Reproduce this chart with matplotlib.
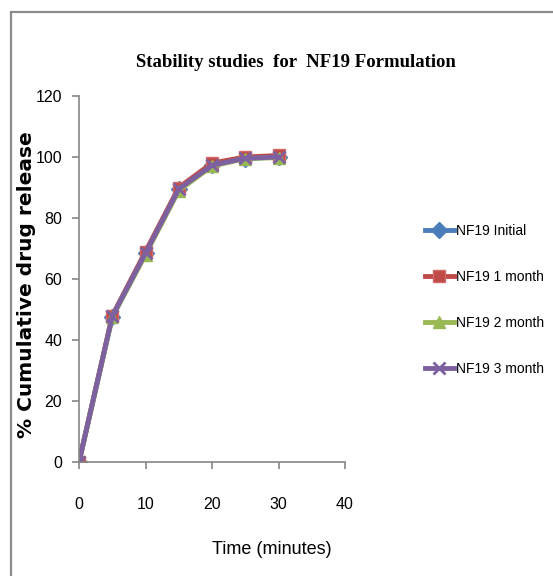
import matplotlib.pyplot as plt
from matplotlib.patches import Rectangle

time_min = [0, 5, 10, 15, 20, 25, 30]
initial = [0, 47.5, 68.5, 89.5, 97.5, 99.5, 100.0]
month1 = [0, 48.0, 69.0, 90.0, 98.0, 100.0, 100.5]
month2 = [0, 47.5, 68.0, 89.0, 97.0, 99.5, 99.8]
month3 = [0, 47.8, 68.5, 89.5, 97.3, 99.6, 100.0]

labels = ['NF19 Initial', 'NF19 1 month', 'NF19 2 month', 'NF19 3 month']
colors = ['#4a7ebb', '#be4b48', '#98b954', '#7d60a0']
markers = ['D', 's', '^', 'x']

narrow = 'Liberation Sans'

fig = plt.figure(figsize=(5.53, 5.76), dpi=100)
ax = fig.add_axes([0.1429, 0.1979, 0.481, 0.6354])

# chart frame
fig.patches.append(Rectangle((11 / 553, -0.01), 1.0, (576 - 11.5) / 576 + 0.01,
                             transform=fig.transFigure, fill=False,
                             edgecolor='#8c8c8c', lw=1.6))

series = [initial, month1, month2, month3]
for vals, lab, c, m in zip(series, labels, colors, markers):
    ax.plot(time_min, vals, color=c, marker=m, lw=3.5, ms=8,
            mew=2 if m == 'x' else 1, mec=c if m != 's' else '#d46a67', label=lab)

ax.set_xlim(0, 40)
ax.set_ylim(0, 120)
ax.set_xticks(range(0, 41, 10))
ax.set_yticks(range(0, 121, 20))
for s in ['top', 'right']:
    ax.spines[s].set_visible(False)
for s in ['left', 'bottom']:
    ax.spines[s].set_color('#868686')
    ax.spines[s].set_linewidth(1.2)
ax.tick_params(direction='out', length=5, color='#868686', width=1.2)
ax.tick_params(axis='x', pad=20)
ax.tick_params(axis='y', pad=7)
for t in ax.get_xticklabels() + ax.get_yticklabels():
    t.set_family(narrow)
    t.set_fontsize(11.5)

ax.set_xlabel('Time (minutes)', family=narrow, fontsize=13)
ax.xaxis.set_label_coords(0.726, -0.215)
ax.set_ylabel('% Cumulative drug release', family='DejaVu Sans', fontweight='bold',
              fontsize=14.5)
ax.yaxis.set_label_coords(-0.16, 0.484)

fig.text(0.535, 0.892, 'Stability studies  for  NF19 Formulation',
         family='Liberation Serif', fontweight='bold', fontsize=13.5, ha='center', va='center')

leg = fig.legend(loc='center left', bbox_to_anchor=(0.768, 0.479), frameon=False,
                 prop={'family': narrow, 'size': 10}, labelspacing=2.3,
                 handlelength=2.1, handletextpad=0.15, borderpad=0, borderaxespad=0)

fig.savefig('out.png', dpi=100)
